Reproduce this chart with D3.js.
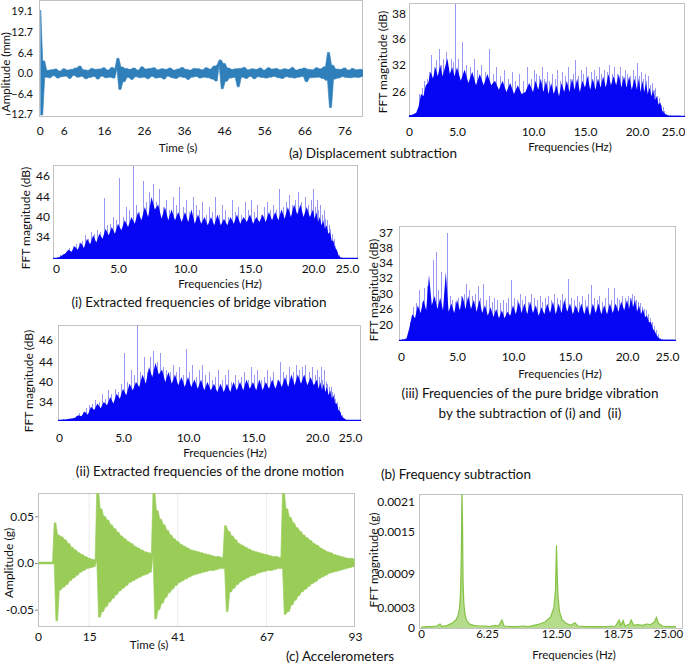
<!DOCTYPE html>
<html><head><meta charset="utf-8">
<script src="https://cdn.jsdelivr.net/npm/d3@7"></script>
<style>body{margin:0;background:#fff}svg{display:block}</style>
</head><body><script>
// ---------------- DATA ----------------
// (a) displacement time series, sampled every 0.5 s from t = 0
const dispStep = 0.5;
const dispValues = [19.5,-12.9,3.8,-1.2,0.9,-1.4,1.1,-0.8,1.3,-1.5,
0.7,-1.1,1.4,-0.9,1.0,-1.6,1.2,-0.7,1.6,-1.2,
2.2,-1.0,1.1,-1.7,0.9,-1.3,1.5,-1.0,1.2,-1.8,
1.3,-0.9,1.7,-1.4,1.0,-1.2,1.8,-1.5,1.4,4.6,
-5.0,1.9,-2.6,1.5,-1.3,1.2,-1.9,1.6,-1.1,1.0,
-1.4,2.0,-1.2,1.3,-1.7,1.5,-1.0,1.7,-1.5,1.1,
-1.3,1.4,-1.8,1.2,-0.9,1.6,-1.4,1.0,-1.6,1.3,
-1.1,1.8,-1.3,1.2,-1.9,1.0,-1.2,1.5,-1.0,1.4,
-1.5,1.1,-1.2,1.7,-1.4,1.3,-1.8,2.2,-2.4,2.6,
4.1,-4.8,3.0,-2.5,1.6,-1.5,1.2,-1.3,1.4,-4.2,
1.5,-1.2,1.8,-1.6,1.1,-1.0,1.4,-1.7,1.2,-1.1,
1.6,-1.3,1.0,-1.5,1.7,-1.2,1.3,-1.0,1.5,-1.4,
1.1,-1.6,1.4,-1.1,1.2,-1.3,1.8,-1.5,1.0,-1.2,
1.3,-1.0,1.6,-2.6,1.2,-1.4,1.1,-1.3,1.7,-1.2,
1.4,-1.6,2.0,-2.2,6.4,-10.6,2.5,-1.8,1.3,-1.5,
1.2,-1.1,1.6,-1.3,1.0,-1.4,1.5,-1.2,1.1,-1.3,
1.2,-1.0,0.8];
const dispXTicks = [0,6,16,26,36,46,56,66,76];
const dispYTicks = [-12.7,-6.4,0,6.4,12.7,19.1];

// FFT spectra: body level every 0.25 Hz (0..26), spike tops every 0.25 Hz (0.125..25.875)
const fftXTicks = [0,5,10,15,20,25];
const fftXLabels = ["0","5.0","10.0","15.0","20.0","25.0"];

const dispFftBody = [20.4,20.5,20.7,21.0,22.5,25.5,25.0,27.5,28.0,30.5,29.0,31.5,29.5,32.0,29.5,31.5,
33.0,30.0,31.5,29.5,31.5,28.5,31.0,28.0,30.5,27.5,30.0,27.5,30.0,27.5,28.5,26.5,
28.5,26.0,28.0,25.5,27.5,25.5,26.0,28.0,26.0,28.5,26.5,29.0,26.0,28.5,25.5,28.0,
25.5,27.5,25.0,28.0,26.0,28.5,26.0,29.0,26.5,29.0,26.0,28.5,27.0,29.5,26.5,29.0,
26.5,29.0,27.0,29.5,27.0,30.0,27.5,29.5,27.5,30.0,27.0,29.5,27.0,29.5,26.5,29.0,
26.5,29.0,26.0,28.5,26.0,28.0,25.5,27.0,25.0,26.5,24.0,25.0,23.0,23.5,21.5,21.0,
20.6,20.4,20.3,20.3,20.3,20.3,20.3,20.3,20.3];
const dispFftSpikes = [20.5,20.6,20.9,21.5,25.5,27.0,28.5,29.0,30.5,33.5,31.5,32.8,
34.5,32.0,33.0,34.0,31.5,33.0,32.5,38.8,33.0,35.5,32.0,31.5,33.0,31.0,32.0,30.5,
34.5,30.0,31.5,29.5,31.0,29.0,30.5,28.5,30.0,28.5,31.5,29.0,31.0,30.0,29.5,31.5,
29.0,30.5,28.5,30.0,29.0,31.0,28.5,30.5,29.5,31.5,29.0,30.0,32.8,29.5,31.0,30.0,
31.5,29.5,30.5,31.0,29.5,31.5,30.0,31.0,30.5,32.0,30.0,31.5,30.0,31.5,29.5,31.0,
30.0,29.5,31.0,29.5,32.3,29.5,30.5,29.0,30.0,28.5,29.5,27.5,28.0,26.5,27.0,25.0,
24.5,23.0,22.5,21.5,20.8,20.5,20.4,20.3,20.3,20.3,20.3,20.3];
const dispFftYTicks = [26,32,36,38];

const bridgeBody = [28.2,28.5,29.0,29.5,30.5,30.0,31.5,30.5,32.5,31.0,33.5,32.0,34.5,32.5,35.0,33.5,
36.5,34.5,37.0,35.0,38.0,36.0,39.0,37.0,40.0,38.0,41.0,39.0,42.0,40.0,44.0,41.5,
42.5,39.5,42.0,39.0,41.5,39.0,41.0,38.5,41.0,38.5,41.5,38.0,40.5,38.0,40.0,37.5,
40.0,37.5,40.5,37.5,39.5,37.5,40.0,38.0,40.5,38.0,40.0,38.5,40.5,38.0,40.0,38.5,
40.5,38.5,41.0,39.0,41.0,39.0,41.5,39.5,42.0,40.0,42.5,40.5,42.5,40.0,42.0,40.0,
41.5,39.5,41.0,38.5,40.0,37.5,39.0,36.5,37.5,35.0,35.5,33.0,33.0,31.0,30.5,29.0,
28.5,28.2,28.0,28.0,28.0,28.0,28.0,28.0,28.0];
const bridgeSpikes = [28.5,29.0,29.5,30.0,31.0,31.5,32.0,32.5,33.0,34.5,33.5,35.5,
35.0,36.0,35.5,43.8,37.5,38.0,40.0,39.0,45.8,40.0,42.0,41.5,47.0,42.5,41.0,45.5,
43.0,44.5,45.2,43.0,44.8,42.0,43.5,41.5,44.0,42.5,45.0,42.0,43.5,41.0,44.0,42.5,
41.5,43.0,40.5,42.0,41.0,44.0,40.5,42.5,41.5,40.0,43.5,41.0,42.0,40.5,43.0,41.5,
43.5,41.0,42.5,40.5,42.0,43.0,41.5,42.5,41.5,44.8,42.0,43.0,44.2,42.5,43.5,44.5,
43.0,44.0,42.5,43.5,44.8,42.0,43.5,41.5,42.5,40.5,41.5,39.5,39.0,37.5,36.5,35.0,
33.5,31.5,30.0,29.0,28.5,28.2,28.1,28.0,28.0,28.0,28.0,28.0];
const droneBody = [28.3,28.4,28.5,28.6,28.8,29.0,29.8,29.5,31.0,30.0,32.5,31.5,33.5,32.0,34.0,33.0,
35.5,33.5,36.5,35.0,38.0,36.0,39.5,37.5,40.0,38.5,41.5,39.5,43.0,41.0,43.8,41.5,
42.5,40.0,42.0,39.5,41.5,39.0,41.0,38.5,41.0,38.5,40.5,38.0,40.5,37.5,40.0,37.5,
39.5,37.0,39.5,37.0,39.5,37.0,40.0,37.5,40.0,37.5,40.5,38.0,40.0,37.5,40.5,37.5,
40.0,38.0,40.5,38.0,40.5,38.5,41.0,38.5,41.5,39.0,41.5,39.5,41.5,39.0,41.0,39.0,
40.5,38.0,40.0,37.5,39.5,37.0,38.5,36.0,37.5,35.0,36.0,33.5,33.5,31.5,31.0,29.5,
29.0,28.5,28.3,28.3,28.3,28.3,28.3,28.3,28.3];
const droneSpikes = [28.4,28.5,28.6,28.8,29.0,29.5,30.5,31.0,32.0,33.0,33.5,34.5,
34.0,36.5,35.0,37.5,36.5,38.0,37.0,39.5,44.8,40.0,42.5,41.5,47.6,42.0,44.5,42.0,
44.5,45.0,44.0,44.8,43.0,42.5,42.0,43.5,42.0,43.0,41.5,45.2,42.0,43.5,41.0,42.5,
43.5,41.5,42.0,40.5,41.0,42.5,40.5,41.5,42.5,40.0,41.5,40.5,41.0,42.0,40.5,43.0,
41.5,42.5,40.5,41.0,42.5,41.0,42.0,40.5,44.0,42.0,41.5,43.0,42.0,43.5,42.5,43.0,
43.5,42.0,43.0,41.5,42.5,41.0,43.0,40.5,42.5,40.0,39.5,38.5,38.5,37.0,36.5,35.0,
34.0,32.5,31.0,30.0,29.0,28.5,28.3,28.3,28.3,28.3,28.3,28.3];
const extractYTicks = [34,40,44,46];

const pureBody = [14.5,14.6,15.0,19.0,24.0,22.5,27.0,24.5,28.5,25.5,32.4,27.0,29.5,26.0,29.0,25.5,
32.8,25.0,27.5,24.5,28.5,25.5,29.5,26.0,29.5,26.0,28.5,25.0,28.5,24.5,27.0,23.5,
26.5,23.0,26.0,22.5,25.5,22.5,25.0,23.5,27.0,24.0,28.0,24.5,27.5,24.0,28.0,24.5,
27.0,23.5,26.5,24.0,27.5,24.5,28.0,24.0,27.5,24.5,28.5,25.0,27.5,24.0,27.0,24.5,
27.5,24.0,27.0,23.5,27.5,24.5,27.5,24.0,27.0,24.0,27.5,24.5,27.5,25.0,28.0,25.5,
28.5,26.0,29.0,26.5,28.5,25.0,27.0,24.0,26.0,23.0,23.5,21.0,21.0,18.5,17.5,16.0,
15.0,14.6,14.5,14.5,14.5,14.5,14.5,14.5,14.5];
const pureSpikes = [14.6,14.8,16.0,21.0,26.5,27.5,30.5,28.0,30.7,31.0,29.5,34.7,
37.0,30.5,32.8,30.0,42.0,29.5,28.5,28.0,29.0,29.6,30.0,31.2,30.5,29.5,30.0,31.0,
29.0,31.2,28.5,29.5,28.0,29.0,28.5,27.5,28.5,27.5,29.0,31.8,29.0,28.5,30.0,28.5,
29.5,28.0,30.0,29.0,28.5,29.5,28.0,29.0,29.5,28.5,30.0,29.0,28.5,30.0,29.0,31.9,
29.0,28.5,29.5,28.0,29.5,28.5,30.0,31.1,29.0,28.5,29.5,28.0,29.0,30.8,28.5,30.8,
29.0,28.5,29.5,29.0,29.5,29.0,30.0,29.5,28.5,28.0,27.5,26.5,26.0,25.5,24.0,22.5,
21.0,19.5,18.0,16.5,15.0,14.6,14.5,14.5,14.5,14.5,14.5,14.5];
const pureYTicks = [20,26,30,32,34,38,42];
const pureYLabels = ["20","26","30","32","34","38","37"];

// (c) accelerometer time series, sampled every 0.5 s from t = 0
const accStep = 0.5;
const accValues = [0.001,-0.001,0.001,-0.001,0.001,-0.001,0.001,-0.001,0.001,-0.001,
0.043,-0.062,0.030,-0.029,0.028,-0.026,0.025,-0.023,0.021,-0.019,
0.017,-0.016,0.014,-0.013,0.011,-0.010,0.009,-0.008,0.007,-0.006,
0.005,-0.005,0.004,-0.004,0.003,
0.078,-0.058,0.058,-0.052,0.050,-0.047,0.046,-0.042,0.041,-0.038,
0.037,-0.034,0.033,-0.030,0.029,-0.027,0.026,-0.024,0.023,-0.021,
0.021,-0.019,0.018,-0.017,0.016,-0.015,0.014,-0.013,0.012,-0.012,
0.011,-0.010,0.010,
0.078,-0.060,0.056,-0.050,0.047,-0.043,0.041,-0.037,0.035,-0.032,
0.030,-0.028,0.026,-0.024,0.023,-0.021,0.020,-0.019,0.018,-0.017,
0.016,-0.015,0.014,-0.013,0.013,-0.012,0.012,-0.011,0.011,-0.010,
0.010,-0.009,0.009,-0.008,0.008,-0.008,0.007,-0.007,0.007,-0.006,0.006,
-0.006,
0.040,-0.052,0.034,-0.031,0.029,-0.027,0.025,-0.023,
0.021,-0.020,0.019,-0.018,0.017,-0.016,0.015,-0.014,0.013,-0.013,
0.012,-0.011,0.011,-0.010,0.010,-0.009,0.009,-0.008,0.008,-0.008,
0.007,-0.007,0.007,-0.006,0.006,-0.006,
0.078,-0.055,0.058,-0.052,0.049,-0.045,0.043,-0.040,0.038,-0.035,
0.034,-0.031,0.030,-0.028,0.027,-0.025,0.024,-0.022,0.021,-0.020,
0.019,-0.017,0.016,-0.015,0.014,-0.013,0.012,-0.011,0.011,-0.010,
0.009,-0.009,0.008,-0.008,0.007,-0.007,0.006,-0.006,0.005,-0.005,0.005,-0.004,0.004];
const accXTicks = [0,15,41,67,93];
const accYTicks = [-0.05,0,0.05];
const accYLabels = ["-0.05","0.0","0.05"];

// (c) accelerometer FFT
const accFreq = [0,0.5,1.0,1.5,1.8,2.0,2.5,3.0,3.3,3.5,3.65,3.75,3.82,3.88,3.93,3.98,4.05,4.15,4.3,4.6,
5.0,5.5,6.0,6.5,7.0,7.3,7.6,7.8,8.5,9.0,9.5,10.0,10.5,11.0,11.5,12.0,12.3,12.45,12.55,12.62,
12.7,12.85,13.1,13.5,14.0,14.4,14.7,15.5,16.5,17.5,18.5,18.9,19.1,19.4,19.6,20.2,20.4,20.7,21.2,21.8,
22.3,22.8,23.3,23.55,23.8,24.3,25.0,26.0];
const accMag = [0.00001,0.00002,0.00002,0.00003,0.00006,0.00002,0.00004,0.00008,0.00012,0.00018,0.0003,0.0006,0.0012,0.0023,0.0017,0.0008,0.0004,0.00022,0.00012,0.00006,
0.00004,0.00003,0.00003,0.00002,0.00004,0.00003,0.00012,0.00003,0.00002,0.00002,0.00003,0.00002,0.00004,0.00006,0.00009,0.00016,0.0003,0.0006,0.00131,0.0009,
0.0005,0.00025,0.00013,0.00007,0.00004,0.00008,0.00003,0.00002,0.00002,0.00002,0.00003,0.00012,0.00004,0.00011,0.00003,0.00006,0.00012,0.00004,0.00005,0.00004,
0.00006,0.00005,0.00009,0.00016,0.00007,0.00003,0.00002,0.00002];
const accFftXTicks = [0,6.25,12.5,18.75,25];
const accFftXLabels = ["0","6.25","12.50","18.75","25.00"];
const accFftYTicks = [0,0.0003,0.0009,0.0015,0.0021];
const accFftYLabels = ["0","0.0003","0.0009","0.0015","0.0021"];

// ---------------- DRAWING ----------------
const FONT = "Lato, 'Open Sans', 'DejaVu Sans', sans-serif";
const INK = "#111";
const FRAME = "#c2c2c2";
const svg = d3.select("body").append("svg").attr("width",685).attr("height",664)
  .style("font-family",FONT);

function frame(id,x0,y0,x1,y1){
  svg.append("clipPath").attr("id",id).append("rect")
    .attr("x",x0).attr("y",y0).attr("width",x1-x0).attr("height",y1-y0);
  svg.append("rect").attr("x",x0+0.5).attr("y",y0+0.5).attr("width",x1-x0-1).attr("height",y1-y0-1)
    .attr("fill","none").attr("stroke",FRAME).attr("stroke-width",1);
}
function axisBottom(scale,yPos,vals,labels,pad,size){
  const g = svg.append("g").attr("transform",`translate(0,${yPos})`)
    .call(d3.axisBottom(scale).tickValues(vals).tickFormat((d,i)=>labels[i]).tickSize(0).tickPadding(pad));
  g.select(".domain").remove();
  g.selectAll("text").attr("font-family",FONT).attr("font-size",size).attr("fill",INK);
  return g;
}
function axisLeft(scale,xPos,vals,labels,pad,size,tick){
  const g = svg.append("g").attr("transform",`translate(${xPos},0)`)
    .call(d3.axisLeft(scale).tickValues(vals).tickFormat((d,i)=>labels[i]).tickSize(tick||0).tickPadding(pad));
  g.select(".domain").remove();
  g.selectAll("line").attr("stroke","#888");
  g.selectAll("text").attr("font-family",FONT).attr("font-size",size).attr("fill",INK);
  return g;
}
function label(txt,x,y,size,rot){
  const t = svg.append("text").attr("font-size",size).attr("fill",INK)
    .attr("text-anchor","middle").attr("dominant-baseline","central").text(txt);
  if(rot) t.attr("transform",`translate(${x},${y}) rotate(-90)`); else t.attr("x",x).attr("y",y);
  return t;
}
// dense oscillating signal: band covering the range of each pair of successive samples
function denseSignal(g,values,step,x,y,fill){
  g.append("path").datum(d3.pairs(values))
    .attr("d",d3.area().x((d,i)=>x((i+0.5)*step))
      .y0(d=>y(Math.min(d[0],d[1]))).y1(d=>y(Math.max(d[0],d[1]))))
    .attr("fill",fill).attr("stroke",fill).attr("stroke-width",0.6);
}

const bodyFreq = d3.range(0,26.001,0.25);
const spikeFreq = d3.range(0.125,26,0.25);

function spectrum(c){
  const x = d3.scaleLinear().domain(fftXTicks).range(c.xr);
  const y = d3.scaleLinear().domain(c.yd).range(c.yr);
  frame(c.id,c.x0,c.y0,c.x1,c.y1);
  const g = svg.append("g").attr("clip-path",`url(#${c.id})`);
  const base = y(c.yd[0]);
  g.selectAll("line").data(c.spikes).join("line")
    .attr("x1",(d,i)=>x(spikeFreq[i])).attr("x2",(d,i)=>x(spikeFreq[i]))
    .attr("y1",base).attr("y2",d=>y(d))
    .attr("stroke","#9898f2").attr("stroke-width",1)
    .attr("shape-rendering","crispEdges");
  g.append("path").datum(c.body)
    .attr("d",d3.area().x((d,i)=>x(bodyFreq[i])).y0(base).y1(d=>y(d)))
    .attr("fill","#0606f4");
  g.append("line").attr("x1",c.x0).attr("x2",c.x1).attr("y1",base-0.5).attr("y2",base-0.5)
    .attr("stroke","#0606f4").attr("stroke-width",1.5);
  axisBottom(x,c.y1,fftXTicks,fftXLabels,c.xpad,12);
  axisLeft(y,c.x0,c.yt,c.yl||c.yt.map(String),c.ypad,12);
}

// ---- (a) displacement ----
{
  const x = d3.scaleLinear().domain([0,80.6]).range([39.7,363]);
  const y = d3.scaleLinear().domain([-13.2,22.3]).range([116,1]);
  frame("ca",39,0,363,117);
  const g = svg.append("g").attr("clip-path","url(#ca)");
  denseSignal(g,dispValues,dispStep,x,y,"#2f7fba");
  axisBottom(x,116,dispXTicks,dispXTicks.map(String),10,12);
  axisLeft(y,39,dispYTicks,dispYTicks.map(d3.format(".1f")),6,11);
  label("Amplitude (mm)",5,72,11.5,true);
  label("Time (s)",178,147,11.5);
}
// ---- displacement FFT ----
spectrum({id:"cb",x0:409,y0:3,x1:685,y1:117,xr:[409,457,533,585,637,673],
  yd:[20,26,32,36,38],yr:[117,92,65,39,14],yt:dispFftYTicks,
  body:dispFftBody,spikes:dispFftSpikes,xpad:10,ypad:3});
label("FFT magnitude (dB)",382,62,12,true);
label("Frequencies (Hz)",570,146,11.5);
label("(a) Displacement subtraction",373,153,13.5);

// ---- (i) ----
spectrum({id:"ci",x0:53,y0:165,x1:358,y1:259,xr:[56,118,185,250,313,347],
  yd:[28,34,40,44,46],yr:[259,237,217,197,176],yt:extractYTicks,
  body:bridgeBody,spikes:bridgeSpikes,xpad:5,ypad:3});
label("FFT magnitude (dB)",25,218,12,true);
label("Frequencies (Hz)",220,283,11.5);
label("(i) Extracted frequencies of bridge vibration",199,302,13.5);

// ---- (ii) ----
spectrum({id:"cii",x0:58,y0:325,x1:361,y1:421,xr:[59,123,188,253,317,350],
  yd:[28,34,40,44,46],yr:[421,402,382,362,340],yt:extractYTicks,
  body:droneBody,spikes:droneSpikes,xpad:12.5,ypad:5});
label("FFT magnitude (dB)",28,381,12,true);
label("Frequencies (Hz)",225,452,11.5);
label("(ii) Extracted frequencies of the drone motion",210,471,13.5);

// ---- (iii) ----
spectrum({id:"ciii",x0:399,y0:226,x1:676,y1:341,xr:[401,457,513,570,627,667],
  yd:[14,20,26,30,32,34,38],yr:[341,325,309,294,278,263,248],yt:pureYTicks,yl:pureYLabels,
  body:pureBody,spikes:pureSpikes,xpad:11,ypad:6});
label("FFT magnitude (dB)",373,290,12,true);
label("Frequencies (Hz)",560,373,11.5);
label("(iii) Frequencies of the pure bridge vibration",530,393,13.5);
label("by the subtraction of (i) and\u00a0 (ii)",530,413,13.5);
label("(b) Frequency subtraction",456,474,13.5);

// ---- (c) accelerometer time ----
{
  const x = d3.scaleLinear().domain([0,93]).range([38,355]);
  const y = d3.scaleLinear().domain([-0.0675,0.075]).range([626,493]);
  frame("cc",38,493,355,627);
  svg.append("g").selectAll("line").data(accXTicks.slice(1,-1)).join("line")
    .attr("x1",d=>x(d)).attr("x2",d=>x(d)).attr("y1",494).attr("y2",626)
    .attr("stroke","#ececec");
  const g = svg.append("g").attr("clip-path","url(#cc)");
  denseSignal(g,accValues,accStep,x,y,"#99cd58");
  axisBottom(x,626,accXTicks,accXTicks.map(String),6.5,12);
  axisLeft(y,38,accYTicks,accYLabels,1,12,3);
  label("Amplitude (g)",8,563,12,true);
  label("Time (s)",149,644,11.5);
  label("(c) Accelerometers",340,656,13.5);
}
// ---- (c) accelerometer FFT ----
{
  const x = d3.scaleLinear().domain(accFftXTicks).range([421,487,556,618,668]);
  const y = d3.scaleLinear().domain(accFftYTicks).range([628,608,574,532,502]);
  frame("cd",419,494,683,629);
  const g = svg.append("g").attr("clip-path","url(#cd)");
  g.append("path").datum(accMag)
    .attr("d",d3.area().x((d,i)=>x(accFreq[i])).y0(y(0)).y1(d=>y(d)))
    .attr("fill","#b5dc8a");
  g.append("path").datum(accMag)
    .attr("d",d3.line().x((d,i)=>x(accFreq[i])).y(d=>y(d)))
    .attr("fill","none").attr("stroke","#86c246").attr("stroke-width",1.2);
  axisBottom(x,628,accFftXTicks,accFftXLabels,1.5,11.5);
  axisLeft(y,419,accFftYTicks,accFftYLabels,4,12);
  label("FFT magnitude (g)",373,560,12,true);
  label("Frequencies (Hz)",574,654,11.5);
}
</script></body></html>
